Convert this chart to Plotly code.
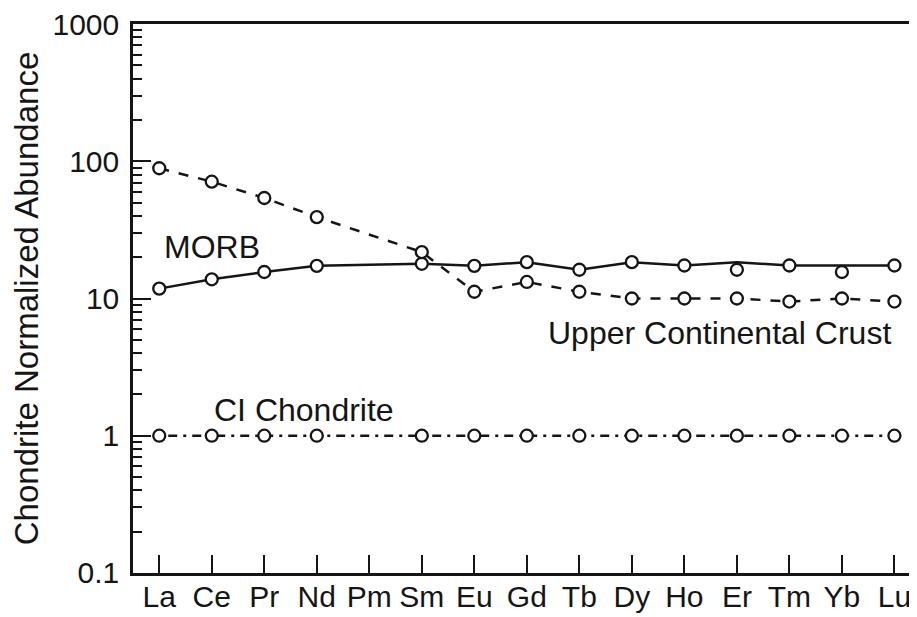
import plotly.graph_objects as go

elements = ["La", "Ce", "Pr", "Nd", "Pm", "Sm", "Eu", "Gd", "Tb", "Dy", "Ho", "Er", "Tm", "Yb", "Lu"]

# Chondrite-normalized abundances (None = not plotted)
morb_markers = [11.8, 13.8, 15.6, 17.3, None, 17.9, 17.3, 18.4, 16.2, 18.4, 17.4, 16.2, 17.4, 15.6, 17.4]
morb_curve = [11.8, 13.8, 15.6, 17.3, None, 17.9, 17.3, 18.4, 16.2, 18.4, 17.4, 18.4, 17.4, 17.4, 17.4]
ucc = [89.0, 71.0, 54.0, 39.2, None, 21.8, 11.2, 13.2, 11.2, 10.0, 10.0, 10.0, 9.5, 10.0, 9.5]
ci_chondrite = [1.0, 1.0, 1.0, 1.0, None, 1.0, 1.0, 1.0, 1.0, 1.0, 1.0, 1.0, 1.0, 1.0, 1.0]

y_tickvals = [0.1, 1, 10, 100, 1000]
y_ticktext = ["0.1", "1", "10", "100", "1000"]
y_minor = [m * 10 ** e for e in (-1, 0, 1, 2) for m in range(2, 10)]

x_idx = list(range(len(elements)))
INK = "#151515"
FONT = "Liberation Sans, Arial, sans-serif"

marker_style = dict(symbol="circle", size=12, color="white", line=dict(color=INK, width=2.3))

fig = go.Figure()
# MORB curve (solid)
fig.add_trace(go.Scatter(x=x_idx, y=morb_curve, mode="lines", connectgaps=True,
                         line=dict(color=INK, width=2.5), hoverinfo="skip", showlegend=False))
fig.add_trace(go.Scatter(x=x_idx, y=morb_markers, mode="markers", marker=marker_style,
                         name="MORB", showlegend=False))
# Upper continental crust (dashed)
fig.add_trace(go.Scatter(x=x_idx, y=ucc, mode="lines+markers", connectgaps=True,
                         line=dict(color=INK, width=2.5, dash="10px,10px"), marker=marker_style,
                         name="Upper Continental Crust", showlegend=False))
# CI chondrite (dash-dot)
fig.add_trace(go.Scatter(x=x_idx, y=ci_chondrite, mode="lines+markers", connectgaps=True,
                         line=dict(color=INK, width=2.5, dash="3px,6px,9px,6px"), marker=marker_style,
                         name="CI Chondrite", showlegend=False))

labels = [
    ("MORB", 0.05, 1.378, "left"),
    ("Upper Continental Crust", 13.97, 0.746, "right"),
    ("CI Chondrite", 1.0, 0.187, "left"),
]
for text, xv, ylog, anchor in labels:
    fig.add_annotation(x=xv, y=ylog, xref="x", yref="y", text=text, showarrow=False,
                       xanchor=anchor, yanchor="middle",
                       font=dict(family=FONT, size=32, color=INK))

fig.update_xaxes(
    range=[-0.5, 14.43], tickmode="array", tickvals=x_idx, ticktext=elements,
    ticks="inside", ticklen=18, tickwidth=1.5, tickcolor=INK,
    showline=True, linewidth=2.5, linecolor=INK, mirror=True,
    showgrid=False, zeroline=False,
    tickfont=dict(family=FONT, size=30, color=INK),
    ticklabelstandoff=-5, ticklabeloverflow="allow",
)
fig.update_yaxes(
    type="log", range=[-1.0005, 3.0005], tickmode="array", tickvals=y_tickvals, ticktext=y_ticktext,
    ticks="inside", ticklen=18, tickwidth=1.5, tickcolor=INK,
    minor=dict(ticks="inside", ticklen=9, tickwidth=1.5, tickcolor=INK,
               tickmode="array", tickvals=y_minor, showgrid=False),
    showline=True, linewidth=2.5, linecolor=INK, mirror=False,
    showgrid=False, zeroline=False,
    tickfont=dict(family=FONT, size=30, color=INK),
    ticklabelstandoff=5, ticklabeloverflow="allow",
    title=dict(text="Chondrite Normalized Abundance", standoff=20,
               font=dict(family=FONT, size=33, color=INK)),
)
# page body has an 8px margin: size figure to the visible 909x609 area
fig.update_layout(
    width=909, height=609,
    margin=dict(l=125, r=0, t=16, b=44, autoexpand=False),
    paper_bgcolor="white", plot_bgcolor="white",
)
fig.write_html("out.html")
